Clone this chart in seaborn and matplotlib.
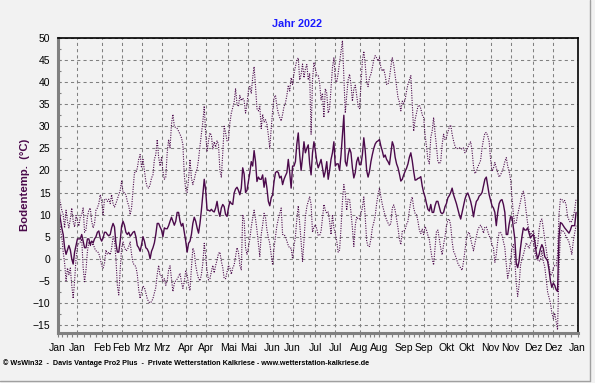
import numpy as np
import pandas as pd
import matplotlib
matplotlib.use("Agg")
import matplotlib.pyplot as plt
from matplotlib.lines import Line2D
from matplotlib.ticker import MultipleLocator, FixedLocator
import seaborn as sns

bt_mittel = [
    12, 11.5, 9, 7, 5.5, 2.5, 1, 2, 3, 2,
    0, -1.2, 1.5, 3, 4.5, 4.5, 4.5, 5.5, 4, 2.5,
    2.5, 4.5, 4.5, 3.2, 4, 3.6, 4.5, 5, 6, 6.3,
    4.7, 4, 4.7, 6, 6, 5.5, 5.2, 5.5, 7, 8,
    7.2, 3.5, 1.5, 1.5, 4, 7.4, 8.5, 7.6, 6, 5.5,
    6, 5.1, 5.5, 6, 6.2, 5, 3, 2.5, 1.7, 3.2,
    5,
    4, 2.5, 2.2, 1.5, 0, 1.7, 2.5, 3.6, 5.5, 8,
    8, 7.2, 6.5, 5, 7, 6.8, 6.8, 7.5, 8.5, 9.4,
    8.5, 7.6, 8.5, 10.5, 10.5, 8.5, 7.4, 8, 6, 4,
    1.5, 3.5, 4, 5.5, 8, 9.4, 8.5, 7, 5.8, 8,
    11, 14.5, 18, 15.5, 11, 11, 10.8, 11.2, 10.8, 10.6,
    11.5, 13, 10.8, 9.6, 11.5, 12.3, 11.8, 10, 9.6, 11.5,
    13, 12.5,
    12.3, 14.9, 15.8, 16.2, 15.5, 14.5, 16, 20.6, 19.2, 15,
    15.5, 17.5, 19.5, 22, 21, 24.5, 22, 17.5, 18.5, 18,
    18, 19, 16.2, 18.3, 16, 13, 12, 13.8, 14.5, 17.5,
    19.5, 19.8, 19.5, 18.3, 18.7, 16.8, 18, 18.8, 19.5, 22.5,
    19.5, 16, 21, 21, 22, 26, 28.5, 23.5, 20, 23,
    26.5, 24, 25, 25.8, 21.5, 19, 24, 26.5, 24.5, 22,
    20.6, 21.5,
    22.5, 20.6, 18.5, 19.8, 22, 18, 20, 22.5, 24, 26.5,
    21, 21.5, 21.5, 20, 23.5, 28, 32.5, 22, 21, 23.5,
    25, 24, 20.6, 18.3, 19.5, 22, 23, 21.3, 21.3, 23.6,
    27.4, 24.5, 20, 18.5, 19.8, 22, 23.6, 25, 26, 26.5,
    26.7, 27, 25.5, 24.4, 23, 23.5, 22.5, 22, 21.3, 24,
    26.5, 25.5, 23, 21.5, 20.6, 19.2, 17.6, 18, 19, 19.8,
    20.5,
    21.5, 23, 24, 22.2, 19.8, 17.8, 17.9, 18.2, 18.3, 18.6,
    16.5, 15, 14, 12.5, 11.2, 10.8, 12.3, 10.5, 10.5, 12,
    13, 13, 11.7, 10.5, 10.2, 10.5, 11.8, 12.5, 13.8, 14.3,
    15, 16, 14.5, 13.5, 12.5, 11.2, 10, 9, 10.5, 12,
    13.5, 14.5, 14.9, 14, 13, 11.5, 9.5, 11.5, 13, 13.4,
    14.2, 14.5, 15, 16.5, 18, 18.5, 16.5, 14.5, 13.2, 12,
    11.5, 10.5,
    7.5, 10.5, 12.5, 13.2, 13.4, 12.3, 10.5, 5.5, 5.5, 7.8,
    9.5, 9.5, 7, 4.5, -1, -2, -0.5, 2.5, 5, 7,
    6.5, 6.5, 7, 5.8, 4.7, 5.2, 5.5, 4, 1.5, 0,
    0.9, 2.3, 3.2, 2.4, 0.5, 0, -0.5, -2.5, -5, -6.5,
    -5.5, -6, -7, -7.4, 5, 8.2, 8, 7.5, 7, 6.6,
    6.2, 5.8, 6.5, 7.5, 7.5, 7.5, 10.5,
]

bt_max = [
    15, 14.5, 12.5, 11, 10, 7, 11, 8.5, 7, 9,
    11.5, 8.5, 7.2, 9.8, 8.5, 7.4, 9.5, 10, 11.5, 6,
    6.5, 9.5, 11, 11.5, 8.5, 7, 8, 11, 11.5, 12.5,
    14.5, 13, 10, 13.5, 13.5, 13, 13.5, 12.5, 14.5, 12.5,
    11.7, 12.5, 13.5, 14.5, 15.5, 17.6, 15, 15, 14.5, 13,
    12, 10, 11.5, 15.5, 19.5, 19.5, 20.5, 22.5, 23.6, 20.6,
    22.5,
    20, 17.5, 16.2, 16, 16.8, 18.3, 19, 22.5, 23.6, 27,
    23, 21, 22.9, 19.8, 18, 18.5, 24, 27, 25.1, 30.5,
    32.7, 30, 29.7, 29.5, 28.9, 28.2, 27.4, 25.9, 19, 15.5,
    15, 18, 22.5, 18.3, 16.8, 18, 19.5, 20.3, 22.5, 25.5,
    28.2, 31, 34.6, 28.2, 24.4, 26.7, 28.5, 28, 24.8, 26.5,
    25.3, 26.7, 25.9, 20, 18.5, 24, 30, 28.5, 26.7, 26.7,
    30.8, 33,
    34.2, 35.5, 38.5, 35, 34.5, 37, 35.8, 36.4, 35.8, 33,
    35, 38, 39, 37.5, 41, 43.5, 39, 34, 33.5, 34.5,
    29.5, 32.7, 31, 31.5, 30.5, 28, 25, 29.5, 33.5, 36.5,
    37, 34.5, 33, 32, 31.2, 32.7, 34.5, 35.3, 37, 39.3,
    38, 41, 39.5, 42, 43.5, 45, 45.5, 40.5, 41.8, 44.1,
    41, 43, 44, 40.5, 42, 28.2, 40.5, 44.5, 43, 41.5,
    41.5, 39.8,
    36, 37.5, 32, 38.5, 37.5, 33, 34, 38.5, 43.3, 45.6,
    40.5, 40, 42, 44.5, 47, 49.4, 41, 33, 37, 40.5,
    41.8, 39.5, 35.7, 38.5, 39.3, 37, 34.5, 34, 39.5, 44.8,
    47, 44, 40, 39, 41, 41.8, 43.3, 45, 46, 45.5,
    44.8, 45.5, 43.3, 42.5, 43, 41.5, 39.5, 39.5, 41, 43.5,
    45.6, 44, 41.5, 39, 36.5, 35.5, 33.5, 35.7, 35.2, 36,
    38,
    39.5, 40.5, 41.5, 35, 28.9, 31.5, 33, 34.5, 34.8, 34,
    32.6, 32, 28, 25.5, 22.5, 21.5, 27.5, 28.9, 32, 28.5,
    25.5, 22, 21.5, 22, 25.9, 28.2, 27, 27.5, 28.7, 29.8,
    30.3, 28.2, 26.7, 25.5, 24.9, 25, 25.1, 25.1, 24.8, 25.1,
    24, 24.5, 25.2, 26, 26.5, 24.4, 21, 19.3, 19.8, 20.8,
    21.5, 22.3, 25.1, 27, 28.5, 28.6, 27.8, 26.5, 22.5, 19.8,
    20.5, 21.8,
    20.6, 19.5, 18.5, 19, 19.8, 20.6, 22, 22.9, 21, 19.8,
    18, 14, 10, 7.9, 8.2, 10, 11.5, 13, 14.5, 15.3,
    13.5, 10.5, 8, 6.5, 5.4, 6, 6.5, 4.8, 2.2, 3,
    6.5, 8.5, 9, 6.9, 4.5, 2.3, 0, -1.5, -3.8, -3.5,
    -2.1, -1.5, -1.6, 1, 10, 13.5, 13.5, 12.8, 13.2, 12.2,
    9.6, 8.8, 8.2, 8.5, 9.5, 11, 13.5,
]

bt_min = [
    10, 8.9, 6.5, 5, 1.5, -1, -5, -2.1, -3.6, -2.1,
    -6, -9, -5, 0, 2.8, 3.5, 3.8, 4.5, -2, -5.2,
    -2.5, 1.7, 3.8, 3, 3, 3.5, 2.4, 1.8, 1.7, 1.2,
    0, -1.5, -2.1, -1, 2, 1, 1.5, 0.9, 2.4, 5,
    4.2, 0, -6, -8.2, -2.5, 2.4, 3.8, 2.6, 1.8, 2,
    2.8, 3.8, 1, -1, -1.4, -1.8, -3.5, -7, -9, -7.4,
    -6.2,
    -6.5, -7.8, -9, -9.8, -10, -9.7, -9, -7.7, -6.5, -3.5,
    -1.5, -3.8, -3.8, -5.2, -4.5, -6, -5, -2.5, -1.6, -4.4,
    -7.4, -5.6, -5, -4.6, -4, -3.3, -5.2, -6.7, -5.2, -2.8,
    -3.5, -6, -7.2, -2.1, 2.4, 1.5, -1.5, -3.2, -4.5, -5,
    -3.6, -1, 3.5, 0.5, -2.8, -4.8, -4.5, -2.9, -1.5, -3.2,
    -1.5, -0.3, 1.2, 1.5, -0.6, -2, -4.5, -4.5, -3, -1.5,
    -2.1, -3.5,
    -2.1, -1.4, 0.5, 2.5, 1.5, -1.5, -2.5, 10, 8.8, 2.5,
    1, 2.5, 4.5, 7.2, 9.2, 11, 9, 6.5, 3.5, 0.5,
    5.5, 7.7, 10.3, 9.3, 6.5, 4.8, 3.5, 0.9, -1.4, 2.5,
    5, 7.5, 9, 10.3, 11.5, 5.5, 5.5, 5, 4, 3,
    2.4, 2.4, 0, 3, 5, 9, 12, 8, 3.9, -0.6,
    4, 9.5, 11.8, 13, 14, 12.3, 6, 7.2, 7.7, 6.8,
    5.3, 5.3,
    6.2, 9.2, 12.3, 11, 10.3, 10.6, 8.5, 5.5, 10, 7,
    5.7, 4, 1.5, 2, 7, 13, 16.8, 14.8, 11, 13.5,
    13.5, 10.5, 7, 2.8, 7.5, 9.5, 9, 9, 10.3, 11.5,
    14, 9.5, 4, 2.8, 2.8, 4.5, 7, 8.2, 9.7, 12.5,
    14.5, 16, 14, 12.3, 11, 9.7, 8.8, 8.1, 7.5, 8,
    11.5, 12.2, 11, 9, 7, 4.5, 3.2, 6.2, 6.2, 6.6,
    7.8,
    8.5, 11, 13, 14, 11.5, 10.3, 10, 8.5, 6.5, 5.7,
    6.7, 5.5, 7.3, 6.5, 5.3, 4.3, 2, 0, -1.4, 2.5,
    6.2, 6.5, 4.5, 2.4, 0.9, 3.2, 5, 7.4, 8.8, 9,
    7.5, 3.9, 1.7, 1, 0, -1, -1.6, -2.1, -2.6, -0.6,
    1.8, 4.5, 5.8, 6, 4.5, 3.2, 1.8, 3.5, 5, 6.5,
    7.2, 7.6, 7, 5.8, 7.2, 7.2, 6.2, 5.2, 4.5, 3.2,
    2.5, -0.8,
    1, 4, 6, 6, 5.3, 3.9, 2.5, -1.2, -4.4, -2.8,
    -0.5, 2.5, 3.2, -0.3, -5.5, -8.5, -6, -1.5, 0, 0.9,
    2.2, 3.6, 3, 2.4, 3.5, 4.2, 3.9, 1.5, 0.2, -0.2,
    -0.6, -0.3, 2, -0.6, -1.8, -4.5, -7.5, -8.8, -10, -12.3,
    -13.5, -12.3, -14.2, -16.1, -2.1, 5.5, 6.5, 6.2, 5.8, 5,
    4.5, 3.8, 2.5, 1, 3.9, 5.8, 7.5,
]

monate = ["Jan", "Feb", "Mrz", "Apr", "Mai", "Jun",
          "Jul", "Aug", "Sep", "Okt", "Nov", "Dez"]

assert len(bt_mittel) == len(bt_max) == len(bt_min) == 365

df = pd.DataFrame({
    "tag": np.arange(365),
    "mittel": bt_mittel,
    "max": bt_max,
    "min": bt_min,
})

# x-Achse: Beschriftung am 1. und 15. jedes Monats
ticks, labels = [], []
for m in range(1, 13):
    for d in (1, 15):
        ticks.append(pd.Timestamp(2022, m, d).dayofyear - 1)
        labels.append(monate[m - 1])
ticks.append(365)
labels.append("Jan")
minor = []
for a, b in zip(ticks[:-1], ticks[1:]):
    minor += list(np.linspace(a, b, 5)[1:-1])

sns.set_theme(style="ticks")
plt.rcParams["font.family"] = ["Liberation Sans", "DejaVu Sans"]

LILA = "#4b0a4b"
GRAU = "#808080"
BG = "#f2f2f2"
W, H = 595, 383

fig = plt.figure(figsize=(W / 100, H / 100), dpi=100, facecolor=BG)
ax = fig.add_axes([57.5 / W, 1 - 332.5 / H, 520 / W, 294.5 / H], facecolor=BG)

punkt = (0, (1, 1.2))
sns.lineplot(data=df, x="tag", y="max", ax=ax, color=LILA, lw=0.8,
             linestyle=punkt, errorbar=None)
sns.lineplot(data=df, x="tag", y="min", ax=ax, color=LILA, lw=0.8,
             linestyle=punkt, errorbar=None)
sns.lineplot(data=df, x="tag", y="mittel", ax=ax, color=LILA, lw=1.0,
             errorbar=None)

ax.set_xlim(0, 365)
ax.set_ylim(-16.7, 50)
ax.set_xlabel("")
ax.set_ylabel("")

ax.xaxis.set_major_locator(FixedLocator(ticks))
ax.set_xticklabels(labels)
ax.xaxis.set_minor_locator(FixedLocator(minor))
ax.yaxis.set_major_locator(MultipleLocator(5))
ax.yaxis.set_minor_locator(MultipleLocator(2.5))

ax.grid(True, which="major", color=GRAU, linestyle=(0, (3, 3)), linewidth=0.75)
ax.set_axisbelow(True)

ax.tick_params(axis="x", which="both", direction="out", color=GRAU,
               length=3, width=0.8, labelsize=7.5, pad=4.5, labelcolor="black")
ax.tick_params(axis="y", which="both", direction="in", color=GRAU,
               length=2.5, width=0.8, labelsize=7.5, pad=5, labelcolor="black")

for s in ("left", "bottom"):
    ax.spines[s].set_color(GRAU)
    ax.spines[s].set_linewidth(2.2)
for s in ("top", "right"):
    ax.spines[s].set_color("black")
    ax.spines[s].set_linewidth(1.2)

fig.text(0.5, 1 - 24 / H, "Jahr 2022", color="#1a1aff", fontsize=7.8,
         fontweight="bold", ha="center", va="center")
fig.text(25 / W, 1 - 185 / H, "Bodentemp.  (°C)", color=LILA, fontsize=8.2,
         fontweight="bold", rotation=90, ha="center", va="center")
fig.text(3 / W, 1 - 363 / H,
         "© WsWin32  -  Davis Vantage Pro2 Plus  -  Private Wetterstation Kalkriese - www.wetterstation-kalkriese.de",
         color="black", fontsize=5.2, fontweight="bold", ha="left", va="center")

# Rahmen unten/rechts
fig.add_artist(Line2D([590 / W, 590 / W], [1 - 381 / H, 1], transform=fig.transFigure,
                      color="#a0a0a0", lw=1))
fig.add_artist(Line2D([0, 590 / W], [1 - 381 / H, 1 - 381 / H], transform=fig.transFigure,
                      color="#a0a0a0", lw=1))

fig.savefig("out.png", dpi=100, facecolor=BG)
